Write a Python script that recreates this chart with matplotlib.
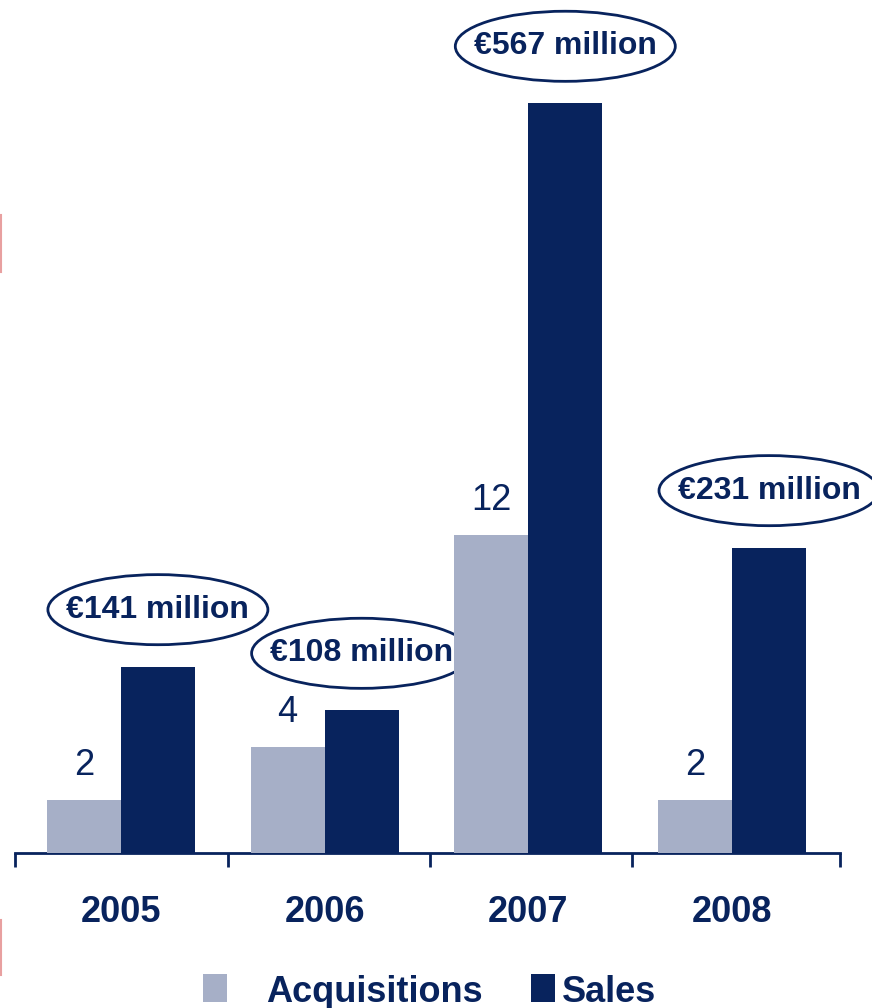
import matplotlib
matplotlib.use("Agg")
import matplotlib.pyplot as plt
from matplotlib.patches import Ellipse, Rectangle
from matplotlib.lines import Line2D

years = ["2005", "2006", "2007", "2008"]
acquisitions = [2, 4, 12, 2]
sales = [141, 108, 567, 231]
sales_labels = ["€141 million", "€108 million", "€567 million", "€231 million"]
legend_names = ["Acquisitions", "Sales"]

navy = "#08235d"
light = "#a6afc7"

plt.rcParams["font.family"] = ["Liberation Sans", "DejaVu Sans"]

fig = plt.figure(figsize=(8.72, 10.08), dpi=100)
ax = fig.add_axes([15 / 872, 155 / 1008, 825 / 872, 853 / 1008])
ax2 = ax.twinx()

x = list(range(len(years)))
w = 0.363
ax2.bar([i - w / 2 for i in x], acquisitions, width=w, color=light, align="center")
ax.bar([i + w / 2 for i in x], sales, width=w, color=navy, align="center")

ax.set_xlim(-0.52, 3.53)
ax.set_ylim(0, 645)
ax2.set_ylim(0, 32.2)

# deal counts above the light bars
for i, v in enumerate(acquisitions):
    ax2.annotate(str(v), (i - w / 2, v), xytext=(0, 12), textcoords="offset points",
                 ha="center", va="bottom", fontsize=26, color=navy)

# circled sales totals above the dark bars
for i, (v, lab) in enumerate(zip(sales, sales_labels)):
    cy = v + 43
    ax.add_patch(Ellipse((i + w / 2, cy), 1.08, 53, facecolor="white",
                         edgecolor=navy, lw=2, clip_on=False, zorder=3))
    ax.text(i + w / 2, cy, lab, ha="center", va="center", fontsize=23,
            fontweight="bold", color=navy, zorder=4, clip_on=False)

for a in (ax, ax2):
    for s in ("top", "right", "left"):
        a.spines[s].set_visible(False)
    a.set_yticks([])
ax2.spines["bottom"].set_visible(False)
ax.spines["bottom"].set_color(navy)
ax.spines["bottom"].set_linewidth(2)

ax.set_xticks(x)
ax.set_xticklabels(years, fontsize=26, fontweight="bold", color=navy)
ax.tick_params(axis="x", which="major", length=0, pad=30)
ax.set_xticks([-0.52, 0.526, 1.517, 2.509, 3.53], minor=True)
ax.tick_params(axis="x", which="minor", length=10, width=2, color=navy, direction="out")

# legend drawn by hand: squares and names in figure pixels
H = 1008
for (sx, tx), name, col in zip(((203, 266), (531, 562)), legend_names, (light, navy)):
    fig.add_artist(Rectangle((sx / 872, 1 - 1002 / H), 24 / 872, 28 / H,
                             transform=fig.transFigure, facecolor=col, edgecolor="none"))
    fig.text(tx / 872, 1 - 1002 / H, name, ha="left", va="baseline", fontsize=26,
             fontweight="bold", color=navy)

# faint red edge marks on the left border
for y0, y1 in ((215, 272), (920, 975)):
    fig.add_artist(Line2D([0.001, 0.001], [1 - y0 / H, 1 - y1 / H],
                          color="#e8a0a0", lw=1.5))

fig.savefig("out.png", dpi=100)
